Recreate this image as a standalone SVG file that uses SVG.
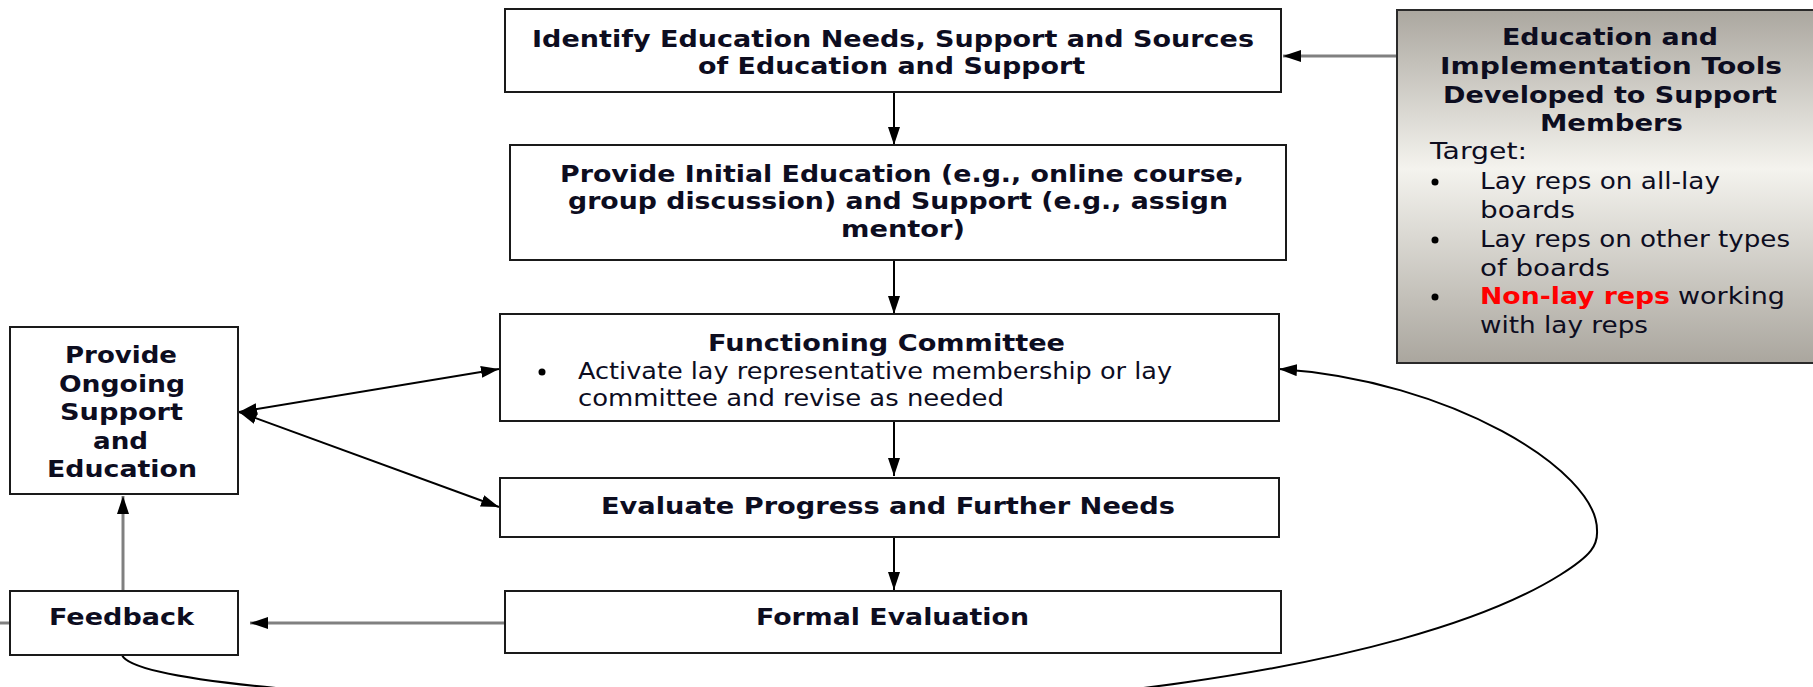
<svg xmlns="http://www.w3.org/2000/svg" width="1813" height="687" viewBox="0 0 1813 687">
<defs>
<linearGradient id="gray" x1="0" y1="0" x2="0" y2="1">
<stop offset="0" stop-color="#aba79f"/>
<stop offset="0.45" stop-color="#f4f3ee"/>
<stop offset="1" stop-color="#aaa69e"/>
</linearGradient>
<marker id="ah" viewBox="0 0 18 12" refX="18" refY="6" markerWidth="18" markerHeight="12" markerUnits="userSpaceOnUse" orient="auto-start-reverse">
<path d="M0,0 L18,6 L0,12 z" fill="#000"/>
</marker>
<style>
.box{fill:#fff;stroke:#1a1a1a;stroke-width:2}
.b{font-family:"DejaVu Sans",Verdana,sans-serif;font-weight:bold;font-size:23px;fill:#0d0d1f}
.r{font-family:"DejaVu Sans",Verdana,sans-serif;font-size:23px;fill:#0d0d1f}
.red{fill:#ff0000}
.dot{fill:#000}
.blk{fill:none;stroke:#000;stroke-width:2}
.gry{fill:none;stroke:#808080;stroke-width:3}
</style>
</defs>
<rect width="1813" height="687" fill="#fff"/>

<g id="connectors">
<line class="blk" x1="894" y1="92" x2="894" y2="145" marker-end="url(#ah)"/>
<line class="blk" x1="894" y1="260" x2="894" y2="314" marker-end="url(#ah)"/>
<line class="blk" x1="894" y1="421" x2="894" y2="476" marker-end="url(#ah)"/>
<line class="blk" x1="894" y1="537" x2="894" y2="590" marker-end="url(#ah)"/>
<line class="gry" x1="1397" y1="56" x2="1283" y2="56" marker-end="url(#ah)"/>
<line class="gry" x1="505" y1="623" x2="250" y2="623" marker-end="url(#ah)"/>
<line class="gry" x1="0" y1="623" x2="10" y2="623"/>
<line class="gry" x1="123" y1="590" x2="123" y2="496" marker-end="url(#ah)"/>
<line class="blk" x1="239" y1="412" x2="499" y2="369" marker-start="url(#ah)" marker-end="url(#ah)"/>
<line class="blk" x1="239" y1="412" x2="499" y2="507" marker-start="url(#ah)" marker-end="url(#ah)"/>
<path class="blk" d="M122,655 C135,685 400,702 730,710 C1000,716 1400,675 1560,575 C1592,555 1598,545 1597,530 C1597,470 1450,380 1279,369" marker-end="url(#ah)"/>
</g>

<g id="identify">
<rect class="box" x="505" y="9" width="776" height="83"/>
<text class="b" x="532" y="47" textLength="722" lengthAdjust="spacingAndGlyphs">Identify Education Needs, Support and Sources</text>
<text class="b" x="698" y="74" textLength="387" lengthAdjust="spacingAndGlyphs">of Education and Support</text>
</g>

<g id="initial">
<rect class="box" x="510" y="145" width="776" height="115"/>
<text class="b" x="560" y="182" textLength="684" lengthAdjust="spacingAndGlyphs">Provide Initial Education (e.g., online course,</text>
<text class="b" x="568" y="209" textLength="660" lengthAdjust="spacingAndGlyphs">group discussion) and Support (e.g., assign</text>
<text class="b" x="841" y="237" textLength="124" lengthAdjust="spacingAndGlyphs">mentor)</text>
</g>

<g id="committee">
<rect class="box" x="500" y="314" width="779" height="107"/>
<text class="b" x="708" y="351" textLength="357" lengthAdjust="spacingAndGlyphs">Functioning Committee</text>
<circle class="dot" cx="542" cy="372" r="3.5"/>
<text class="r" x="578" y="379" textLength="594" lengthAdjust="spacingAndGlyphs">Activate lay representative membership or lay</text>
<text class="r" x="578" y="406" textLength="426" lengthAdjust="spacingAndGlyphs">committee and revise as needed</text>
</g>

<g id="evaluate">
<rect class="box" x="500" y="478" width="779" height="59"/>
<text class="b" x="601" y="514" textLength="574" lengthAdjust="spacingAndGlyphs">Evaluate Progress and Further Needs</text>
</g>

<g id="formal">
<rect class="box" x="505" y="591" width="776" height="62"/>
<text class="b" x="756" y="625" textLength="273" lengthAdjust="spacingAndGlyphs">Formal Evaluation</text>
</g>

<g id="ongoing">
<rect class="box" x="10" y="327" width="228" height="167"/>
<text class="b" x="65" y="363" textLength="112" lengthAdjust="spacingAndGlyphs">Provide</text>
<text class="b" x="59" y="392" textLength="126" lengthAdjust="spacingAndGlyphs">Ongoing</text>
<text class="b" x="60" y="420" textLength="123" lengthAdjust="spacingAndGlyphs">Support</text>
<text class="b" x="93" y="449" textLength="55" lengthAdjust="spacingAndGlyphs">and</text>
<text class="b" x="47" y="477" textLength="150" lengthAdjust="spacingAndGlyphs">Education</text>
</g>

<g id="feedback">
<rect class="box" x="10" y="591" width="228" height="64"/>
<text class="b" x="49" y="625" textLength="145" lengthAdjust="spacingAndGlyphs">Feedback</text>
</g>

<g id="tools">
<rect x="1397" y="10" width="430" height="353" fill="url(#gray)" stroke="#2a2a2a" stroke-width="2"/>
<text class="b" x="1502" y="45" textLength="216" lengthAdjust="spacingAndGlyphs">Education and</text>
<text class="b" x="1440" y="74" textLength="342" lengthAdjust="spacingAndGlyphs">Implementation Tools</text>
<text class="b" x="1443" y="103" textLength="334" lengthAdjust="spacingAndGlyphs">Developed to Support</text>
<text class="b" x="1540" y="131" textLength="143" lengthAdjust="spacingAndGlyphs">Members</text>
<text class="r" x="1430" y="159" textLength="97" lengthAdjust="spacingAndGlyphs">Target:</text>
<circle class="dot" cx="1435" cy="182" r="3.5"/>
<text class="r" x="1480" y="189" textLength="240" lengthAdjust="spacingAndGlyphs">Lay reps on all-lay</text>
<text class="r" x="1480" y="218" textLength="95" lengthAdjust="spacingAndGlyphs">boards</text>
<circle class="dot" cx="1435" cy="240" r="3.5"/>
<text class="r" x="1480" y="247" textLength="310" lengthAdjust="spacingAndGlyphs">Lay reps on other types</text>
<text class="r" x="1480" y="276" textLength="130" lengthAdjust="spacingAndGlyphs">of boards</text>
<circle class="dot" cx="1435" cy="297" r="3.5"/>
<text class="b red" x="1480" y="304" textLength="190" lengthAdjust="spacingAndGlyphs">Non-lay reps</text>
<text class="r" x="1678" y="304" textLength="107" lengthAdjust="spacingAndGlyphs">working</text>
<text class="r" x="1480" y="333" textLength="168" lengthAdjust="spacingAndGlyphs">with lay reps</text>
</g>
</svg>
